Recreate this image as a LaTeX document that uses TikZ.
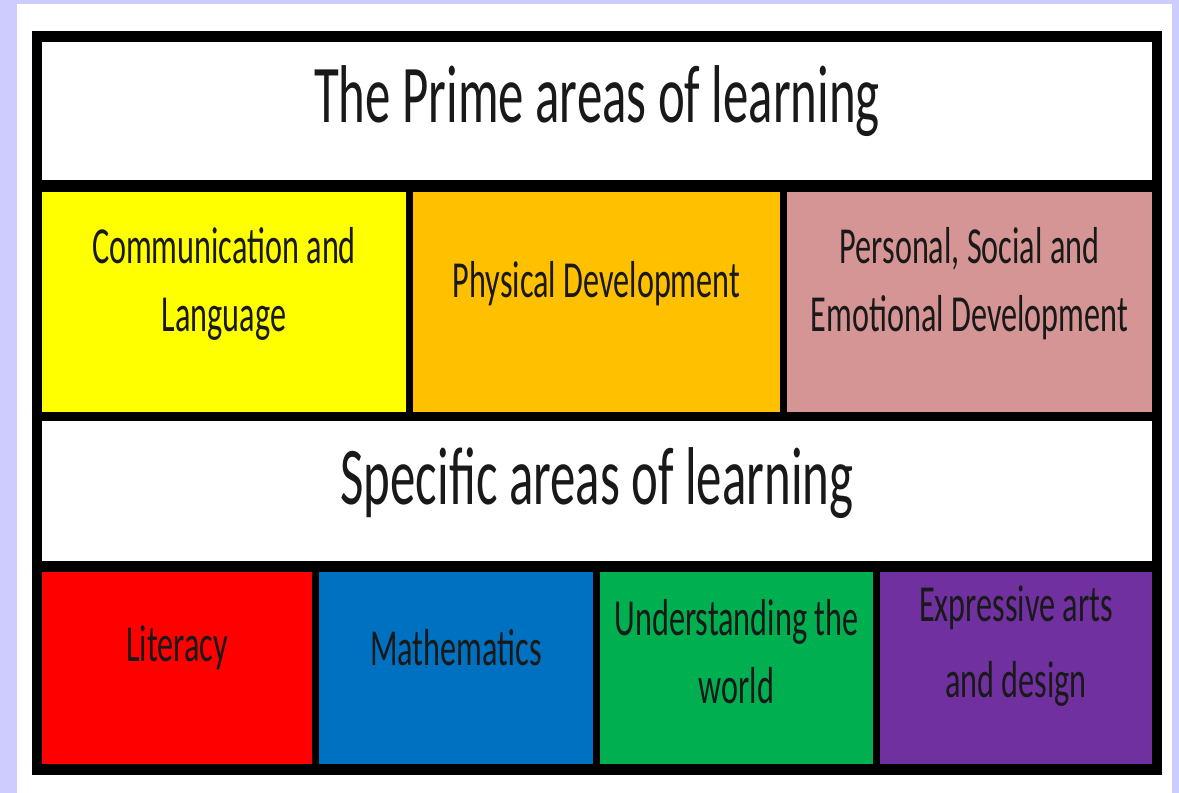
\documentclass[tikz,border=0pt]{standalone}
\usepackage{fontspec}
\setmainfont{Carlito}[FakeStretch=0.62]
\usetikzlibrary{positioning}
\definecolor{lavender}{HTML}{CCCCFF}
\definecolor{cyellow}{HTML}{FFFF00}
\definecolor{corange}{HTML}{FFC000}
\definecolor{cpink}{HTML}{D69595}
\definecolor{cred}{HTML}{FF0000}
\definecolor{cblue}{HTML}{0070C0}
\definecolor{cgreen}{HTML}{00B050}
\definecolor{cpurple}{HTML}{7030A0}
\tikzset{
x=0.5pt, y=-0.5pt,
box/.style={fill=#1, inner sep=0pt, outer sep=0pt},
prime/.style={box=#1, minimum height=110pt},
specific/.style={box=#1, minimum height=96pt},
heading/.style={font=\fontsize{41}{44}\selectfont, text=black!90},
area/.style={font=\fontsize{26}{34}\selectfont, align=center, text=black!90},
}

\begin{document}
\begin{tikzpicture}
    \fill[lavender] (0,0) rectangle (1179,793);
    \fill[white] (17,4) rectangle (1172,793);
    \node[box=black, minimum width=565pt, minimum height=372pt, anchor=north west] (frame) at (32,31) {};

    % prime areas
    \node[box=white, minimum width=555pt, minimum height=69pt, anchor=north west] (primehead) at (42,42) {};
    \node[prime=cyellow, minimum width=182pt, anchor=north west] (comm) at (42,192) {};
    \node[prime=corange, minimum width=183.5pt, right=3.5pt of comm] (phys) {};
    \node[prime=cpink, minimum width=182.5pt, right=3.5pt of phys] (pse) {};

    % specific areas
    \node[box=white, minimum width=555pt, minimum height=70pt, anchor=north west] (spechead) at (42,421) {};
    \node[specific=cred, minimum width=135pt, anchor=north west] (lit) at (42,572) {};
    \node[specific=cblue, minimum width=137pt, right=3.5pt of lit] (maths) {};
    \node[specific=cgreen, minimum width=136.5pt, right=3.5pt of maths] (world) {};
    \node[specific=cpurple, minimum width=136pt, right=3.5pt of world] (arts) {};

    % labels
    \node[heading] at ([yshift=5pt]primehead.center) {The Prime areas of learning};
    \node[heading] at ([yshift=4pt]spechead.center) {Specific areas of learning};
    \node[area] at ([yshift=9pt]comm.center) {Communication and\\Language};
    \node[area] at ([yshift=9pt]phys.center) {Physical Development};
    \node[area] at ([yshift=9pt]pse.center) {Personal, Social and\\Emotional Development};
    \node[area] at ([yshift=10pt]lit.center) {Literacy};
    \node[area] at ([yshift=10pt]maths.center) {Mathematics};
    \node[area] at ([yshift=8pt]world.center) {Understanding the\\world};
    \node[area, font=\fontsize{26}{38}\selectfont] at ([yshift=11pt]arts.center) {Expressive arts\\and design};
\end{tikzpicture}
\end{document}
